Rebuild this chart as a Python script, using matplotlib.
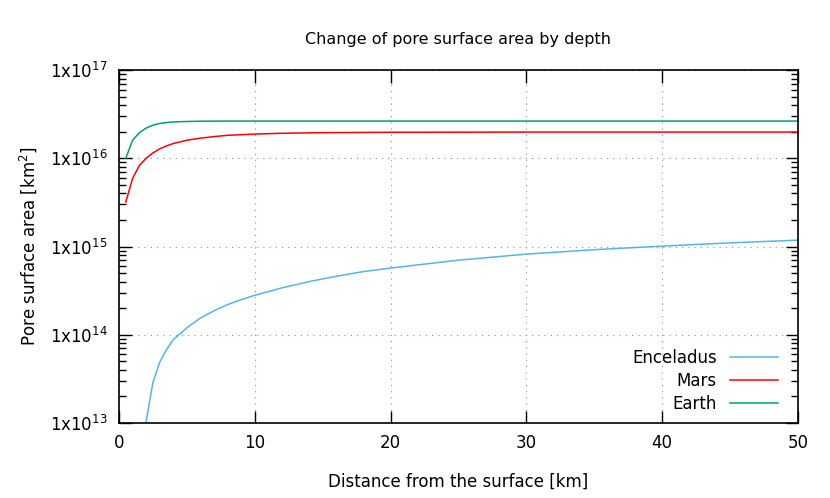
import math
import matplotlib
matplotlib.use("Agg")
import matplotlib.pyplot as plt
from matplotlib.ticker import FixedLocator, LogLocator, FuncFormatter, NullFormatter

# depth [km] and pore surface area [km^2]
enc_depth = [2, 2.5, 3, 3.5, 4, 5, 6, 7, 8, 9, 10, 12, 14, 16, 18, 20, 25, 30, 35, 40, 45, 50]
enc_area = [1.05e13, 2.9e13, 4.9e13, 6.8e13, 8.8e13, 1.2e14, 1.55e14, 1.87e14, 2.2e14, 2.5e14,
            2.8e14, 3.4e14, 4.0e14, 4.6e14, 5.2e14, 5.7e14, 7.0e14, 8.2e14, 9.2e14, 1.01e15,
            1.1e15, 1.18e15]

mars_depth = [0.5, 1, 1.5, 2, 2.5, 3, 3.5, 4, 5, 6, 7, 8, 10, 12, 15, 20, 30, 40, 50]
mars_area = [3.2e15, 5.9e15, 8.3e15, 1.0e16, 1.15e16, 1.28e16, 1.38e16, 1.47e16, 1.6e16, 1.69e16,
             1.76e16, 1.82e16, 1.88e16, 1.92e16, 1.95e16, 1.97e16, 1.98e16, 1.98e16, 1.98e16]

earth_depth = [0.5, 1, 1.5, 2, 2.5, 3, 3.5, 4, 5, 6, 8, 10, 20, 30, 40, 50]
earth_area = [1.0e16, 1.6e16, 1.95e16, 2.2e16, 2.37e16, 2.48e16, 2.54e16, 2.58e16, 2.61e16,
              2.63e16, 2.64e16, 2.64e16, 2.64e16, 2.64e16, 2.64e16, 2.64e16]

x_ticks = [0, 10, 20, 30, 40, 50]

fig = plt.figure(figsize=(8.3, 4.98), dpi=100)
ax = fig.add_axes([0.1434, 0.1506, 0.818, 0.7088])

ax.plot(enc_depth, enc_area, color="#56b4e9", lw=1.1, label="Enceladus")
ax.plot(mars_depth, mars_area, color="#ff0000", lw=1.1, label="Mars")
ax.plot(earth_depth, earth_area, color="#009e73", lw=1.1, label="Earth")

ax.set_yscale("log")
ax.set_xlim(0, 50)
ax.set_ylim(1e13, 1e17)
ax.xaxis.set_major_locator(FixedLocator(x_ticks))
ax.yaxis.set_major_locator(LogLocator(base=10, numticks=10))
ax.yaxis.set_minor_locator(LogLocator(base=10, subs=range(2, 10), numticks=50))
ax.yaxis.set_major_formatter(FuncFormatter(lambda v, p: "1x10$^{%d}$" % round(math.log10(v))))
ax.yaxis.set_minor_formatter(NullFormatter())

ax.tick_params(which="both", direction="in", top=True, right=True, labelsize=12, pad=8)
ax.tick_params(which="major", length=9, width=1)
ax.tick_params(which="minor", length=5, width=1)
for s in ax.spines.values():
    s.set_linewidth(1.2)

ax.grid(True, which="major", color="#a0a0a0", linestyle=(0, (1, 4)), linewidth=0.9)

ax.set_title("Change of pore surface area by depth", fontsize=11.5, pad=19)
ax.set_xlabel("Distance from the surface [km]", fontsize=12, labelpad=15)
ax.set_ylabel("Pore surface area [km$^2$]", fontsize=12, labelpad=8)

ax.legend(loc="lower right", bbox_to_anchor=(0.985, 0.0), frameon=False, markerfirst=False,
          fontsize=12, handlelength=2.85, labelspacing=0.3, borderaxespad=0.2, handletextpad=0.8)

fig.savefig("out.png", dpi=100)
